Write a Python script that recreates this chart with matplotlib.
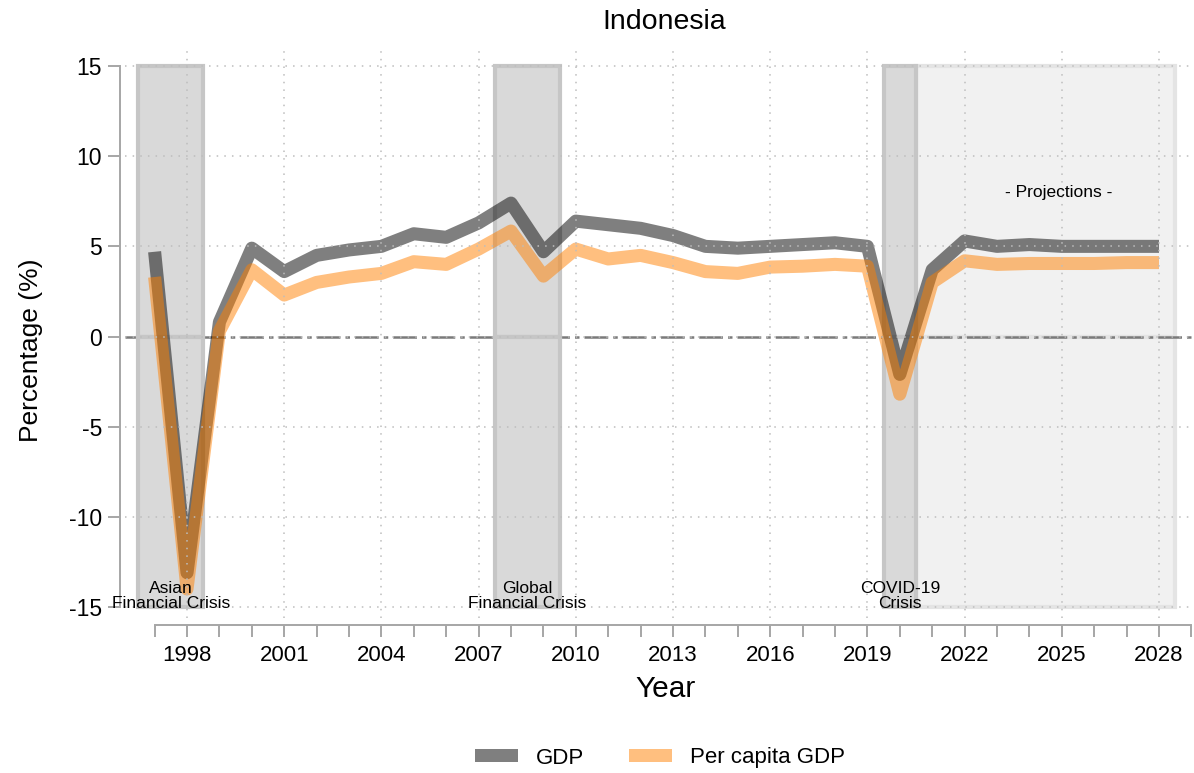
import matplotlib
matplotlib.use("Agg")
import matplotlib.pyplot as plt
from matplotlib.patches import Patch
import numpy as np

plt.rcParams['font.family'] = ['Liberation Sans', 'DejaVu Sans']

# ---- data -------------------------------------------------------------
years = list(range(1997, 2029))
gdp = [4.7, -13.1, 0.8, 4.9, 3.6, 4.5, 4.8, 5.0, 5.7, 5.5, 6.3, 7.4, 4.7,
       6.4, 6.2, 6.0, 5.6, 5.0, 4.9, 5.0, 5.1, 5.2, 5.0, -2.1, 3.7, 5.3,
       5.0, 5.1, 5.0, 5.0, 5.0, 5.0]
gdp_pc = [3.3, -14.0, 0.3, 3.7, 2.3, 3.0, 3.3, 3.5, 4.15, 4.0, 4.85, 5.85,
          3.35, 4.85, 4.3, 4.5, 4.1, 3.6, 3.5, 3.85, 3.9, 4.0, 3.9, -3.2,
          3.0, 4.2, 4.0, 4.05, 4.05, 4.05, 4.1, 4.1]
series_names = ["GDP", "Per capita GDP"]

crisis_spans = [(1996.5, 1998.5), (2007.5, 2009.5), (2019.5, 2020.5)]
crisis_labels = ["Asian\nFinancial Crisis", "Global\nFinancial Crisis",
                 "COVID-19\nCrisis"]
projection_span = (2020.5, 2028.5)

y_ticks = [-15, -10, -5, 0, 5, 10, 15]
x_major = list(range(1998, 2029, 3))
x_minor = list(range(1997, 2030))

# ---- figure -----------------------------------------------------------
W, H = 1194, 773
fig = plt.figure(figsize=(W / 100, H / 100), dpi=100)
ax = fig.add_axes([125 / W, 1 - 618 / H, 1 - 125 / W, (618 - 48) / H])
ax.set_xlim(1996.086, 2029.08)
ax.set_ylim(-15.61, 16.0)

band_lo, band_hi = -15, 15


def shaded(span, face, edge, z):
    c = (span[0] + span[1]) / 2
    w = span[1] - span[0]
    for top in (band_hi, band_lo):
        ax.bar(c, top, width=w, bottom=0, color=face, edgecolor=edge,
               linewidth=3.0, zorder=z)


# projection region, zero line, crisis bands
shaded(projection_span, '#f1f1f1', '#e4e4e4', 1.0)
ax.axhline(0, color='#7a7a7a', lw=1.8, linestyle=(0, (9.5, 2.0, 1.8, 2.0)),
           zorder=1.2)
for span in crisis_spans:
    shaded(span, '#d9d9d9', '#c6c6c6', 1.5)

# series
ax.plot(years, gdp, color='black', alpha=0.5, lw=9.4,
        solid_capstyle='butt', solid_joinstyle='round', zorder=2.0)
ax.plot(years, gdp_pc, color=(1.0, 0.5, 0.0), alpha=0.5, lw=9.4,
        solid_capstyle='butt', solid_joinstyle='round', zorder=2.1)

# annotations
for span, lab in zip(crisis_spans, crisis_labels):
    ax.text((span[0] + span[1]) / 2, -14.4, lab, ha='center', va='center',
            fontsize=12.5, linespacing=0.95, zorder=3)
ax.text(2024.9, 8.0, "- Projections -", ha='center', va='center',
        fontsize=12.5, zorder=3)

# axes styling
ax.set_yticks(y_ticks)
ax.set_yticklabels([str(v) for v in y_ticks])
ax.set_xticks(x_major)
ax.set_xticks(x_minor, minor=True)
ax.set_xticklabels([str(v) for v in x_major])

for s in ('top', 'right'):
    ax.spines[s].set_visible(False)
ax.spines['left'].set_position(('outward', 3.6))
ax.spines['bottom'].set_position(('outward', 5.0))
ax.spines['left'].set_bounds(-15, 15)
ax.spines['bottom'].set_bounds(1997, 2029)
for s in ('left', 'bottom'):
    ax.spines[s].set_color('#a6a6a6')
    ax.spines[s].set_linewidth(1.4)

ax.tick_params(axis='y', length=8.6, width=1.4, color='#a6a6a6',
               labelsize=16.5, pad=4.3)
ax.tick_params(axis='x', which='both', length=8.6, width=1.4,
               color='#a6a6a6', labelsize=16, pad=5.5)

ax.set_axisbelow(False)
ax.grid(True, which='major', color='#bdbdbd', lw=1.1,
        linestyle=(0, (1, 4)))

ax.set_ylabel("Percentage (%)", fontsize=19)
ax.yaxis.set_label_coords(-0.077, 0.47)
ax.set_xlabel("Year", fontsize=21.5)
ax.xaxis.set_label_coords(0.506, -0.1)
fig.text(664 / W, 1 - 22 / H, "Indonesia", ha='center', va='center',
         fontsize=20.5)

handles = [Patch(facecolor=(0, 0, 0, 0.5), edgecolor='none'),
           Patch(facecolor=(1.0, 0.5, 0.0, 0.5), edgecolor='none')]
fig.legend(handles, series_names, loc='center', ncol=2,
           bbox_to_anchor=(660 / W, 1 - 758 / H), frameon=False,
           fontsize=16, handlelength=1.94, handleheight=0.55,
           handletextpad=0.8, columnspacing=2.0)

fig.savefig("out.png", dpi=100)
